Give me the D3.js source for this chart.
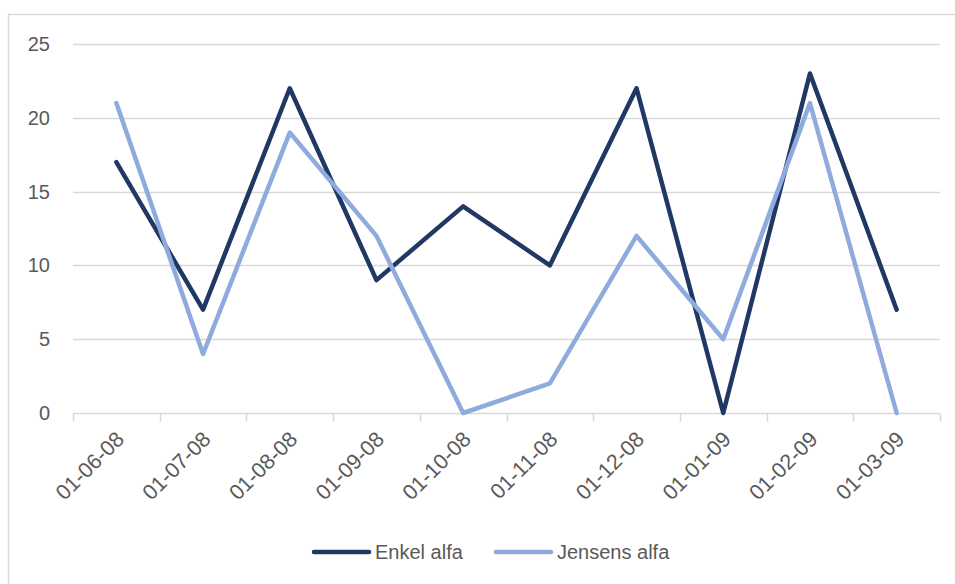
<!DOCTYPE html>
<html>
<head>
<meta charset="utf-8">
<script src="https://cdn.jsdelivr.net/npm/d3@7"></script>
<style>
  body { margin: 0; background: #fff; }
  text { font-family: "Liberation Sans", Arial, sans-serif; fill: #595959; }
</style>
</head>
<body>
<svg id="chart"></svg>
<script>
const categories = ["01-06-08", "01-07-08", "01-08-08", "01-09-08", "01-10-08",
                    "01-11-08", "01-12-08", "01-01-09", "01-02-09", "01-03-09"];
const enkelAlfa = [17, 7, 22, 9, 14, 10, 22, 0, 23, 7];
const jensensAlfa = [21, 4, 19, 12, 0, 2, 12, 5, 21, 0];
const yTicks = [0, 5, 10, 15, 20, 25];
const seriesNames = ["Enkel alfa", "Jensens alfa"];
const seriesColors = ["#203864", "#8faadc"];

const width = 955, height = 584;
const margin = {top: 44, right: 15, bottom: 171, left: 73};

const svg = d3.select("#chart")
    .attr("width", width)
    .attr("height", height);

// chart area border (only left and top visible)
svg.append("rect")
    .attr("x", 8.5).attr("y", 14.5)
    .attr("width", 1000).attr("height", 1000)
    .style("fill", "none")
    .style("stroke", "#d9d9d9")
    .style("stroke-width", 1.5);

const x = d3.scaleBand()
    .domain(categories)
    .range([margin.left, width - margin.right]);

const y = d3.scaleLinear()
    .domain([0, 25])
    .range([height - margin.bottom, margin.top]);

// gridlines
svg.append("g")
    .selectAll("line")
    .data(yTicks.filter(d => d > 0))
    .enter()
    .append("line")
    .attr("x1", margin.left)
    .attr("x2", width - margin.right)
    .attr("y1", d => Math.round(y(d)) + 0.5)
    .attr("y2", d => Math.round(y(d)) + 0.5)
    .style("stroke", "#d9d9d9")
    .style("stroke-width", 1.5);

// y labels
svg.append("g")
    .selectAll("text")
    .data(yTicks)
    .enter()
    .append("text")
    .attr("x", 50)
    .attr("y", d => y(d))
    .attr("dy", "0.35em")
    .attr("text-anchor", "end")
    .style("font-size", "20px")
    .text(d => d);

// x axis with ticks between categories
const axisY = Math.round(y(0)) + 0.5;
const xAxis = svg.append("g");
xAxis.append("line")
    .attr("x1", margin.left).attr("x2", width - margin.right)
    .attr("y1", axisY).attr("y2", axisY)
    .style("stroke", "#d9d9d9")
    .style("stroke-width", 1.5);

const tickPos = categories.map(c => x(c)).concat([x(categories[categories.length - 1]) + x.bandwidth()]);
xAxis.selectAll("line.tick")
    .data(tickPos)
    .enter()
    .append("line")
    .attr("class", "tick")
    .attr("x1", d => Math.round(d) + 0.5)
    .attr("x2", d => Math.round(d) + 0.5)
    .attr("y1", axisY)
    .attr("y2", axisY + 8)
    .style("stroke", "#d9d9d9")
    .style("stroke-width", 1.5);

xAxis.selectAll("text")
    .data(categories)
    .enter()
    .append("text")
    .attr("text-anchor", "end")
    .attr("transform", d => `translate(${x(d) + x.bandwidth() / 2 + 9}, ${axisY + 27}) rotate(-45)`)
    .style("font-size", "21.5px")
    .text(d => d);

// lines
const line = d3.line()
    .x((d, i) => x(categories[i]) + x.bandwidth() / 2)
    .y(d => y(d));

[enkelAlfa, jensensAlfa].forEach((values, i) => {
    svg.append("path")
        .datum(values)
        .attr("d", line)
        .style("fill", "none")
        .style("stroke", seriesColors[i])
        .style("stroke-width", 4.5)
        .style("stroke-linejoin", "round")
        .style("stroke-linecap", "round");
});

// legend
const legendX = [314, 496];
const legend = svg.append("g")
    .selectAll("g")
    .data(seriesNames)
    .enter()
    .append("g")
    .attr("transform", (d, i) => `translate(${legendX[i]}, 552)`);

legend.append("line")
    .attr("x1", 0).attr("x2", 55)
    .style("stroke", (d, i) => seriesColors[i])
    .style("stroke-width", 4.5)
    .style("stroke-linecap", "round");

legend.append("text")
    .attr("x", 61)
    .attr("dy", "0.35em")
    .style("font-size", "20px")
    .text(d => d);
</script>
</body>
</html>
